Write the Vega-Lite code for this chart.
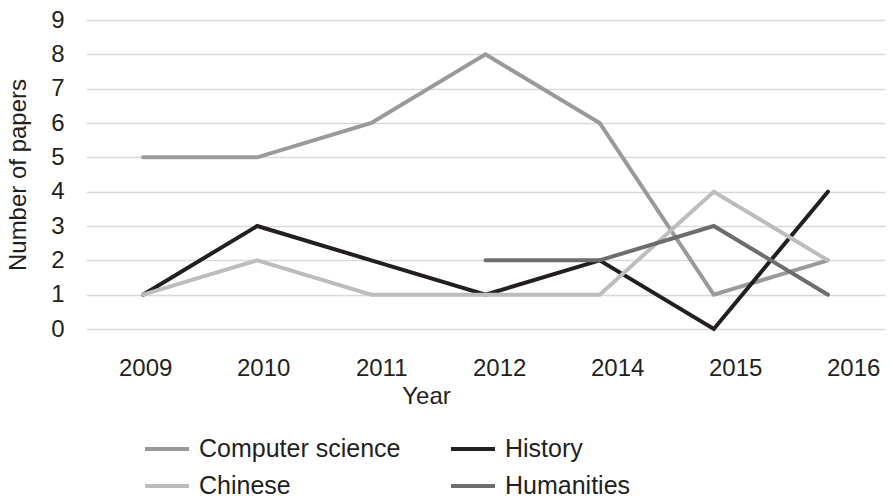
{
  "$schema": "https://vega.github.io/schema/vega-lite/v6.json",
  "autosize": {"type": "none"},
  "width": 799,
  "height": 309,
  "padding": {"left": 86, "top": 20, "right": 5, "bottom": 169},
  "background": "white",
  "config": {
    "font": "Liberation Sans",
    "view": {"stroke": null},
    "axis": {"labelFont": "Liberation Sans", "titleFont": "Liberation Sans", "labelColor": "#231f20", "titleColor": "#231f20", "titleFontWeight": "normal"}
  },
  "data": {
    "values": [
      {"year": "2009", "subject": "Computer science", "papers": 5},
      {"year": "2010", "subject": "Computer science", "papers": 5},
      {"year": "2011", "subject": "Computer science", "papers": 6},
      {"year": "2012", "subject": "Computer science", "papers": 8},
      {"year": "2014", "subject": "Computer science", "papers": 6},
      {"year": "2015", "subject": "Computer science", "papers": 1},
      {"year": "2016", "subject": "Computer science", "papers": 2},
      {"year": "2009", "subject": "History", "papers": 1},
      {"year": "2010", "subject": "History", "papers": 3},
      {"year": "2011", "subject": "History", "papers": 2},
      {"year": "2012", "subject": "History", "papers": 1},
      {"year": "2014", "subject": "History", "papers": 2},
      {"year": "2015", "subject": "History", "papers": 0},
      {"year": "2016", "subject": "History", "papers": 4},
      {"year": "2009", "subject": "Chinese", "papers": 1},
      {"year": "2010", "subject": "Chinese", "papers": 2},
      {"year": "2011", "subject": "Chinese", "papers": 1},
      {"year": "2012", "subject": "Chinese", "papers": 1},
      {"year": "2014", "subject": "Chinese", "papers": 1},
      {"year": "2015", "subject": "Chinese", "papers": 4},
      {"year": "2016", "subject": "Chinese", "papers": 2},
      {"year": "2012", "subject": "Humanities", "papers": 2},
      {"year": "2014", "subject": "Humanities", "papers": 2},
      {"year": "2015", "subject": "Humanities", "papers": 3},
      {"year": "2016", "subject": "Humanities", "papers": 1}
    ]
  },
  "layer": [
    {
      "mark": {"type": "line", "strokeWidth": 4, "strokeCap": "round", "strokeJoin": "miter"},
      "encoding": {
        "x": {"field": "year", "type": "ordinal", "scale": {"type": "point", "padding": 0.5}, "axis": null},
        "y": {
          "field": "papers", "type": "quantitative",
          "scale": {"domain": [0, 9], "nice": false},
          "axis": {
            "values": [0, 1, 2, 3, 4, 5, 6, 7, 8, 9],
            "title": "Number of papers",
            "titleFontSize": 24,
            "labelFontSize": 24,
            "labelOverlap": false,
            "domain": false,
            "ticks": false,
            "labelPadding": 22,
            "titlePadding": 20,
            "gridColor": "#d9d9d9",
            "gridWidth": 1.5
          }
        },
        "color": {
          "field": "subject", "type": "nominal",
          "scale": {
            "domain": ["Computer science", "History", "Chinese", "Humanities"],
            "range": ["#9a9a9a", "#231f20", "#bdbdbd", "#6d6d6f"]
          },
          "legend": {
            "title": null,
            "orient": "none",
            "legendX": 57,
            "legendY": 405,
            "direction": "horizontal",
            "columns": 2,
            "columnPadding": 42,
            "rowPadding": -5,
            "symbolType": "stroke",
            "symbolSize": 1936,
            "symbolStrokeWidth": 4,
            "labelFontSize": 25,
            "labelFont": "Liberation Sans",
            "labelColor": "#231f20",
            "labelOffset": 8,
            "labelLimit": 400
          }
        }
      }
    },
    {
      "mark": {"type": "point", "opacity": 0},
      "encoding": {
        "x": {
          "field": "year", "type": "ordinal",
          "scale": {"type": "point", "padding": 0.386, "align": 0.65},
          "axis": {
            "title": "Year",
            "titleFontSize": 24,
            "labelFontSize": 24,
            "labelAngle": 0,
            "domain": false,
            "ticks": false,
            "labelPadding": 27,
            "titlePadding": 4,
            "titleX": 340,
            "grid": false
          }
        },
        "y": {
          "field": "papers", "type": "quantitative",
          "axis": {
            "values": [0, 1, 2, 3, 4, 5, 6, 7, 8, 9],
            "title": "Number of papers",
            "titleFontSize": 24,
            "labelFontSize": 24,
            "labelOverlap": false,
            "domain": false,
            "ticks": false,
            "labelPadding": 22,
            "titlePadding": 20,
            "gridColor": "#d9d9d9",
            "gridWidth": 1.5
          }
        }
      }
    }
  ],
  "resolve": {"scale": {"x": "independent"}, "axis": {"x": "independent"}}
}
